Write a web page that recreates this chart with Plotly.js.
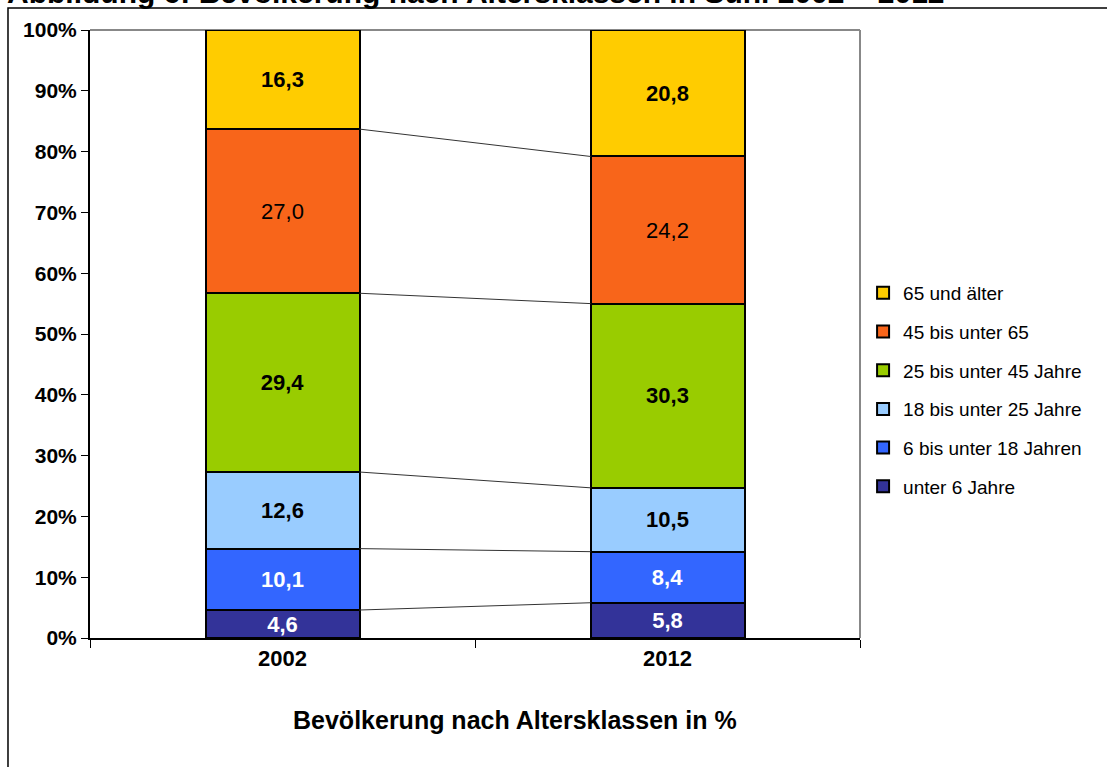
<!DOCTYPE html>
<html>
<head>
<meta charset="utf-8">
<script src="https://cdn.plot.ly/plotly-3.0.1.min.js"></script>
<style>
html,body{margin:0;padding:0;background:#fff;}
#chart{width:1107px;height:767px;}
</style>
</head>
<body>
<div id="chart"></div>
<script>
// ---- data ----
const years = ['2002', '2012'];
const seriesNames = ['unter 6 Jahre', '6 bis unter 18 Jahren', '18 bis unter 25 Jahre', '25 bis unter 45 Jahre', '45 bis unter 65', '65 und älter'];
const unter6 = [4.6, 5.8];
const bis18 = [10.1, 8.4];
const bis25 = [12.6, 10.5];
const bis45 = [29.4, 30.3];
const bis65 = [27.0, 24.2];
const ab65 = [16.3, 20.8];
const yTicks = [0, 10, 20, 30, 40, 50, 60, 70, 80, 90, 100];
const yTickLabels = ['0%', '10%', '20%', '30%', '40%', '50%', '60%', '70%', '80%', '90%', '100%'];
const chartTitle = 'Abbildung 6: Bevölkerung nach Altersklassen in Suhl 2002 – 2012';
const xTitle = 'Bevölkerung nach Altersklassen in %';

// ---- styles ----
const seriesValues = [unter6, bis18, bis25, bis45, bis65, ab65];
const colors = ['#333399', '#3366FF', '#99CCFF', '#99CC00', '#F8651A', '#FFCC00'];
const labelColors = ['#ffffff', '#ffffff', '#000000', '#000000', '#000000', '#000000'];
const labelWeights = ['bold', 'bold', 'bold', 'bold', 'normal', 'bold'];
const barWidth = 0.4;
const FONT = 'Liberation Sans, Arial, sans-serif';

const xIdx = years.map((_, i) => i);
const traces = [];
seriesValues.forEach((vals, s) => {
  traces.push({
    type: 'bar',
    name: seriesNames[s],
    legendgroup: 'g' + s,
    legendrank: 100 - s,
    x: xIdx,
    y: vals,
    width: barWidth,
    marker: {color: colors[s], line: {color: '#000', width: 2}},
    texttemplate: '%{y:.1f}',
    textposition: 'inside',
    insidetextanchor: 'middle',
    textangle: 0,
    constraintext: 'none',
    textfont: {family: FONT, size: 22, color: labelColors[s], weight: labelWeights[s]},
    hoverinfo: 'skip'
  });
});

// connector lines between cumulative boundaries
const cum = years.map(() => 0);
for (let s = 0; s < seriesValues.length - 1; s++) {
  years.forEach((_, i) => { cum[i] += seriesValues[s][i]; });
  traces.push({
    type: 'scatter', mode: 'lines',
    x: [xIdx[0] + barWidth / 2, xIdx[1] - barWidth / 2],
    y: [cum[0], cum[1]],
    line: {color: '#333', width: 1},
    showlegend: false, hoverinfo: 'skip'
  });
}

const layout = {
  width: 1107, height: 767,
  margin: {l: 90, r: 247, t: 30, b: 129},
  paper_bgcolor: '#fff', plot_bgcolor: '#fff',
  barmode: 'stack',
  separators: ',.',
  showlegend: true,
  font: {family: FONT, color: '#000'},
  legend: {
    x: 1.004, xanchor: 'left', y: 0.408, yanchor: 'middle',
    traceorder: 'grouped', tracegroupgap: 11,
    font: {family: FONT, size: 19, color: '#000'},
    itemwidth: 30
  },
  uniformtext: {mode: 'show', minsize: 22},
  xaxis: {
    range: [-0.5, 1.5],
    tickmode: 'array', tickvals: xIdx, ticktext: years,
    ticks: '', showgrid: false, zeroline: false,
    showline: true, linecolor: '#000', linewidth: 2,
    tickfont: {family: FONT, size: 22, weight: 'bold'},
    minor: {tickmode: 'array', tickvals: [-0.5, 0.5, 1.5], ticks: 'outside', ticklen: 8, tickcolor: '#000', tickwidth: 1, showgrid: false},
    fixedrange: true
  },
  yaxis: {
    range: [0, 100],
    tickmode: 'array', tickvals: yTicks, ticktext: yTickLabels,
    ticks: 'outside', ticklen: 7, tickcolor: '#000', tickwidth: 1,
    showgrid: false, zeroline: false,
    showline: true, linecolor: '#000', linewidth: 2,
    tickfont: {family: FONT, size: 21, weight: 'bold'},
    fixedrange: true
  },
  shapes: [
    {type: 'rect', xref: 'paper', yref: 'paper', x0: -0.1065, x1: 1.33, y0: -0.25, y1: 1.036, line: {color: '#000', width: 1.5}, fillcolor: 'rgba(0,0,0,0)', layer: 'below'},
    {type: 'line', xref: 'paper', yref: 'paper', x0: 0, x1: 1, y0: 1, y1: 1, line: {color: '#888', width: 2}, layer: 'below'},
    {type: 'line', xref: 'paper', yref: 'paper', x0: 1, x1: 1, y0: 0, y1: 1, line: {color: '#888', width: 2}, layer: 'below'}
  ],
  annotations: [
    {text: chartTitle, xref: 'paper', yref: 'paper', x: -0.11, y: 1.031, xanchor: 'left', yanchor: 'bottom', showarrow: false,
     font: {family: FONT, size: 30, weight: 'bold', color: '#000'}},
    {text: xTitle, xref: 'paper', yref: 'paper', x: 0.552, y: -0.135, xanchor: 'center', yanchor: 'middle', showarrow: false,
     font: {family: FONT, size: 25, weight: 'bold', color: '#000'}}
  ]
};

Plotly.newPlot('chart', traces, layout, {displayModeBar: false, staticPlot: true});
</script>
</body>
</html>
